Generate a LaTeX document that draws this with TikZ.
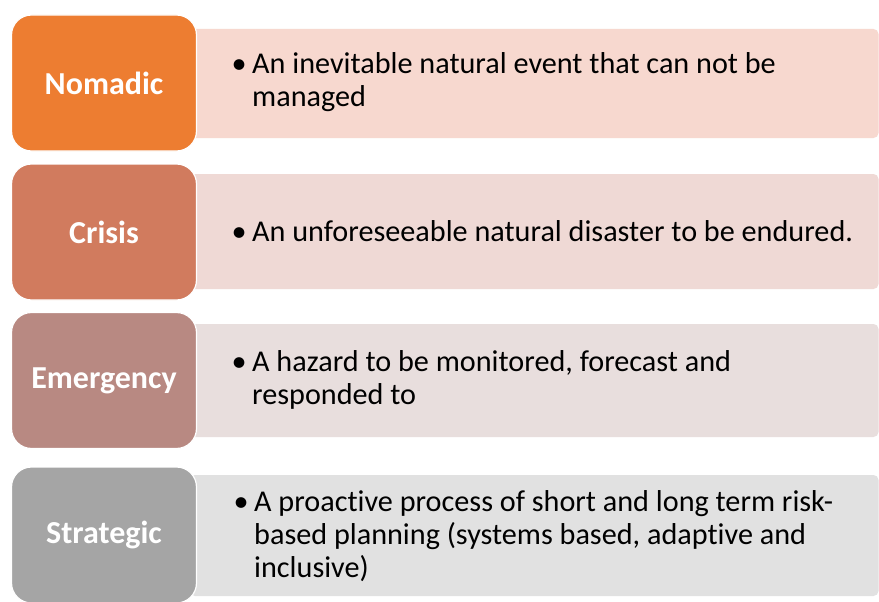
\documentclass[tikz,border=0pt]{standalone}
\usepackage{fontspec}
\setmainfont{Carlito}[Ligatures={NoCommon}]
\definecolor{cNom}{RGB}{237,125,49}
\definecolor{cCri}{RGB}{209,123,94}
\definecolor{cEme}{RGB}{184,137,130}
\definecolor{cStr}{RGB}{165,165,165}
\definecolor{bNom}{RGB}{247,216,207}
\definecolor{bCri}{RGB}{239,217,213}
\definecolor{bEme}{RGB}{232,222,221}
\definecolor{bStr}{RGB}{225,225,225}
\newcommand{\bul}{\makebox[19pt][l]{\hspace*{-1.5pt}•}}
\newcommand{\ind}{\hspace*{19pt}}
\tikzset{
  lab/.style={draw=white, line width=1.2pt, rounded corners=20pt, minimum width=185pt, minimum height=136pt,
    text=white, font=\fontsize{32}{36}\selectfont\bfseries, inner sep=0pt},
  txt/.style={anchor=west, align=left, inner sep=0pt, font=\fontsize{30.2}{33}\selectfont, text=black}
}
\begin{document}
\begin{tikzpicture}[x=1pt,y=-1pt]
\useasboundingbox (0,0) rectangle (879,602);
\clip (0,0) rectangle (879,602);
\fill[white] (0,0) rectangle (879,602);
% right description boxes
\fill[bNom, rounded corners=5pt] (190,29) rectangle (878.5,138);
\fill[bCri, rounded corners=5pt] (190,174) rectangle (878.5,289);
\fill[bEme, rounded corners=5pt] (190,324) rectangle (878.5,437);
\fill[bStr, rounded corners=5pt] (190,475) rectangle (878.5,596);
% left label boxes
\node[lab, fill=cNom] (nom) at (104,83) {Nomadic};
\node[lab, fill=cCri] (cri) at (104,232) {Crisis};
\node[lab, fill=cEme] (eme) at (104,380.5) {Emergency};
\node[lab, fill=cStr] (str) at (104,535) {Strategic};
% texts
\node[txt] (tnom) at (233,82.5) {\bul An inevitable natural event that can not be\\\ind managed};
\node[txt] (tcri) at (233,231.5) {\bul An unforeseeable natural disaster to be endured.};
\node[txt] (teme) at (233,379.5) {\bul A hazard to be monitored, forecast and\\\ind responded to};
\node[txt] (tstr) at (235,536) {\bul A proactive process of short and long term risk-\\\ind based planning (systems based, adaptive and\\\ind inclusive)};
\end{tikzpicture}
\end{document}
